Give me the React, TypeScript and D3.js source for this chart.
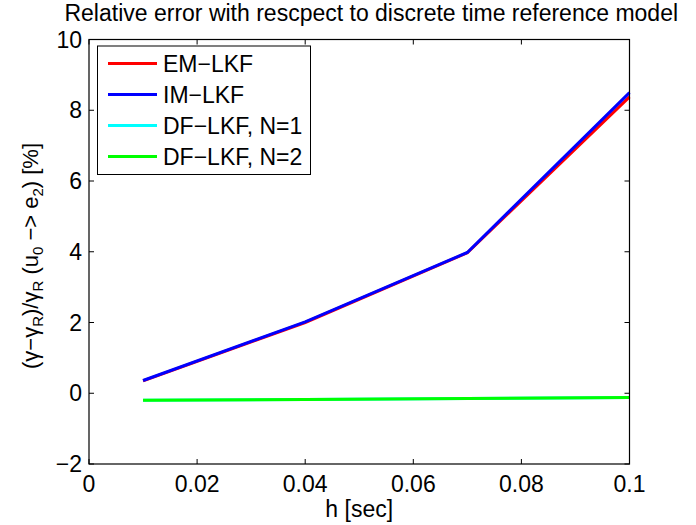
import React from "react";
import * as d3 from "d3";

const hValues = [0.01, 0.04, 0.07, 0.1];
const emLkf = [0.35, 2.0, 3.97, 8.38];
const imLkf = [0.36, 2.02, 3.98, 8.5];
const dfLkf1 = [-0.2, -0.18, -0.15, -0.12];
const dfLkf2 = [-0.2, -0.18, -0.15, -0.12];

const xTicks = [0, 0.02, 0.04, 0.06, 0.08, 0.1];
const yTicks = [-2, 0, 2, 4, 6, 8, 10];

const series = [
  { name: "EM\u2212LKF", values: emLkf, color: "#ff0000" },
  { name: "IM\u2212LKF", values: imLkf, color: "#0000ff" },
  { name: "DF\u2212LKF, N=1", values: dfLkf1, color: "#00ffff" },
  { name: "DF\u2212LKF, N=2", values: dfLkf2, color: "#00ff00" },
];

const W = 696;
const H = 525;
const left = 89;
const right = 629.5;
const top = 39.5;
const bottom = 464;
const font = "'Liberation Sans', Arial, sans-serif";
const fs = 23;

export default function App() {
  const x = d3.scaleLinear().domain([0, 0.1]).range([left, right]);
  const y = d3.scaleLinear().domain([-2, 10]).range([bottom, top]);
  const line = d3
    .line<number>()
    .x((_, i) => x(hValues[i]))
    .y((d) => y(d));

  const tick = 5;
  const fmtX = (v: number) => (v === 0 ? "0" : String(+v.toFixed(2)));
  const sub = { baselineShift: "-30%", fontSize: 15 } as const;

  return (
    <svg width={W} height={H} style={{ position: "absolute", left: 0, top: 0, background: "#fff" }}>
      <rect x={0} y={0} width={W} height={H} fill="#fff" />
      {series.map((s) => (
        <path key={s.name} d={line(s.values) || ""} fill="none" stroke={s.color} strokeWidth={3} />
      ))}

      {/* axes box */}
      <rect x={left} y={top} width={right - left} height={bottom - top} fill="none" stroke="#000" strokeWidth={1.2} />

      {xTicks.map((t) => (
        <g key={"x" + t}>
          <line x1={x(t)} x2={x(t)} y1={bottom} y2={bottom - tick} stroke="#000" />
          <line x1={x(t)} x2={x(t)} y1={top} y2={top + tick} stroke="#000" />
          <text x={x(t)} y={bottom + 28} textAnchor="middle" fontFamily={font} fontSize={fs}>
            {fmtX(t)}
          </text>
        </g>
      ))}
      {yTicks.map((t) => (
        <g key={"y" + t}>
          <line x1={left} x2={left + tick} y1={y(t)} y2={y(t)} stroke="#000" />
          <line x1={right} x2={right - tick} y1={y(t)} y2={y(t)} stroke="#000" />
          <text x={left - 7} y={y(t) + 8} textAnchor="end" fontFamily={font} fontSize={fs}>
            {t < 0 ? "\u2212" + Math.abs(t) : t}
          </text>
        </g>
      ))}

      {/* title */}
      <text x={(left + right) / 2 + 12} y={21} textAnchor="middle" fontFamily={font} fontSize={fs}>
        Relative error with rescpect to discrete time reference model
      </text>

      {/* x label */}
      <text x={(left + right) / 2} y={517} textAnchor="middle" fontFamily={font} fontSize={fs}>
        h [sec]
      </text>

      {/* y label */}
      <text
        transform={`translate(38, 256) rotate(-90)`}
        textAnchor="middle"
        fontFamily={font}
        fontSize={22}
      >
        (γ−γ<tspan {...sub}>R</tspan>
        <tspan>)/γ</tspan>
        <tspan {...sub}>R</tspan>
        <tspan> (u</tspan>
        <tspan {...sub}>0</tspan>
        <tspan> −&gt; e</tspan>
        <tspan {...sub}>2</tspan>
        <tspan>) [%]</tspan>
      </text>

      {/* legend */}
      <g>
        <rect x={97.5} y={46} width={213} height={128.5} fill="#fff" stroke="#000" strokeWidth={1} />
        {series.map((s, i) => {
          const ly = 63.5 + i * 31;
          return (
            <g key={"l" + s.name}>
              <line x1={108} x2={157} y1={ly} y2={ly} stroke={s.color} strokeWidth={3} />
              <text x={163} y={ly + 8.5} fontFamily={font} fontSize={fs}>
                {s.name}
              </text>
            </g>
          );
        })}
      </g>
    </svg>
  );
}
